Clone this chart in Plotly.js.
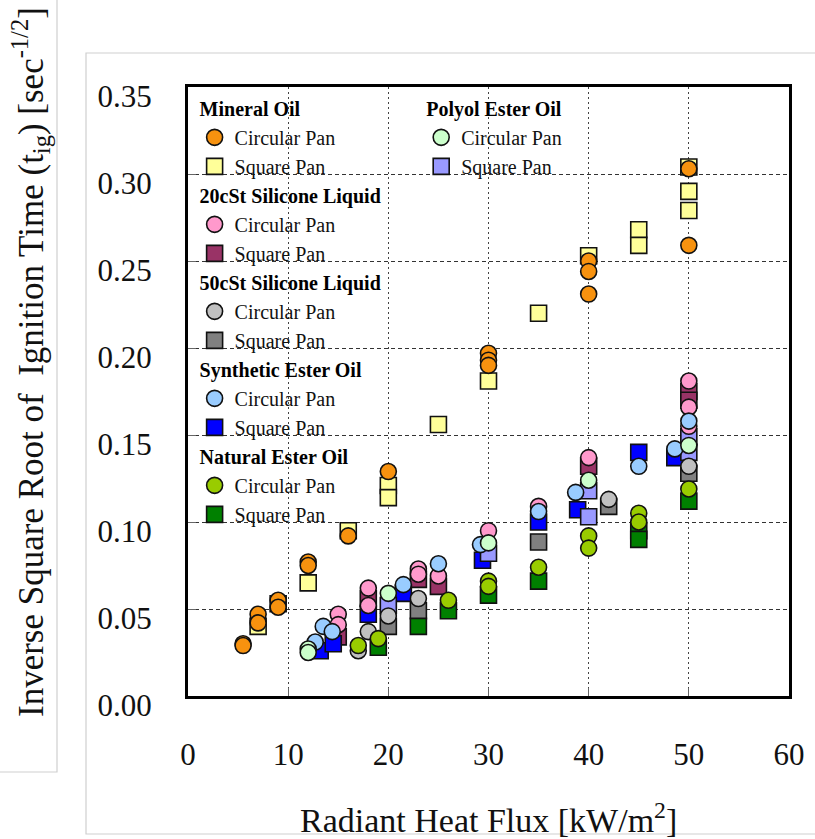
<!DOCTYPE html>
<html>
<head>
<meta charset="utf-8">
<script src="https://cdn.plot.ly/plotly-3.0.1.min.js"></script>
<style>html,body{margin:0;padding:0;background:#fff;}#chart{width:815px;height:839px;}</style>
</head>
<body>
<div id="chart"></div>
<script>
// ---- data ----
const xTicks = [0, 10, 20, 30, 40, 50, 60];
const yTicks = [0.00, 0.05, 0.10, 0.15, 0.20, 0.25, 0.30, 0.35];

const mineralCircX = [5.5, 5.5, 7, 7, 9, 9, 12, 12, 16, 20, 30, 30, 30, 40, 40, 40, 50, 50];
const mineralCircY = [0.030, 0.029, 0.047, 0.042, 0.055, 0.051, 0.077, 0.075, 0.092, 0.129, 0.197, 0.193, 0.190, 0.250, 0.244, 0.231, 0.303, 0.259];
const mineralSqX = [7, 9, 12, 16, 20, 20, 25, 30, 35, 40, 45, 45, 50, 50, 50];
const mineralSqY = [0.040, 0.053, 0.065, 0.095, 0.121, 0.114, 0.156, 0.181, 0.220, 0.253, 0.268, 0.259, 0.304, 0.290, 0.279];

const sil20CircX = [15, 15, 18, 18, 23, 23, 25, 30, 35, 40, 50, 50, 50];
const sil20CircY = [0.047, 0.041, 0.062, 0.052, 0.073, 0.070, 0.069, 0.095, 0.109, 0.137, 0.181, 0.166, 0.155];
const sil20SqX = [15, 18, 23, 25, 40, 50, 50];
const sil20SqY = [0.034, 0.056, 0.067, 0.063, 0.132, 0.175, 0.170];

const sil50CircX = [17, 18, 20, 23, 42, 50];
const sil50CircY = [0.026, 0.037, 0.046, 0.056, 0.113, 0.132];
const sil50SqX = [20, 23, 35, 42, 50];
const sil50SqY = [0.040, 0.049, 0.0885, 0.109, 0.128];

const synCircX = [12.7, 13.5, 14.4, 21.5, 25, 29.2, 35, 38.7, 45, 48.6, 50];
const synCircY = [0.031, 0.040, 0.037, 0.064, 0.076, 0.087, 0.106, 0.117, 0.132, 0.142, 0.158];
const synSqX = [13.2, 14.5, 18, 21.5, 29.4, 35, 38.9, 45, 48.6];
const synSqY = [0.026, 0.030, 0.047, 0.059, 0.078, 0.100, 0.107, 0.140, 0.137];

const natCircX = [17, 19, 26, 30, 30, 35, 40, 40, 45, 45, 50];
const natCircY = [0.029, 0.033, 0.055, 0.066, 0.063, 0.074, 0.092, 0.085, 0.105, 0.100, 0.119];
const natSqX = [19, 23, 26, 30, 35, 45, 45, 50];
const natSqY = [0.028, 0.040, 0.049, 0.058, 0.066, 0.095, 0.090, 0.112];

const polCircX = [12, 12, 20, 30, 40, 50];
const polCircY = [0.027, 0.025, 0.059, 0.088, 0.124, 0.144];
const polSqX = [20, 30, 40, 40, 50, 50];
const polSqY = [0.052, 0.082, 0.118, 0.103, 0.149, 0.140];

// ---- styling ----
const SERIF = 'Liberation Serif, Times New Roman, serif';
function tr(name, group, groupTitle, legend, rank, x, y, symbol, color, size) {
  return {
    type: 'scatter', mode: 'markers', x: x, y: y, name: name,
    legendgroup: group, legend: legend, legendrank: rank,
    legendgrouptitle: {text: '<b>' + groupTitle + '</b>', font: {family: SERIF, size: 20, color: '#000'}},
    marker: {symbol: symbol, color: color, size: size, line: {color: '#111', width: 1.6}},
    hoverinfo: 'x+y'
  };
}

const CS = 16, SS = 16;
const data = [
  // squares first (drawn underneath)
  tr('Square Pan', 'min', 'Mineral Oil', 'legend', 2, mineralSqX, mineralSqY, 'square', '#ffff99', SS),
  tr('Square Pan', 's20', '20cSt Silicone Liquid', 'legend', 4, sil20SqX, sil20SqY, 'square', '#993366', SS),
  tr('Square Pan', 's50', '50cSt Silicone Liquid', 'legend', 6, sil50SqX, sil50SqY, 'square', '#808080', SS),
  tr('Square Pan', 'syn', 'Synthetic Ester Oil', 'legend', 8, synSqX, synSqY, 'square', '#0000ff', SS),
  tr('Square Pan', 'nat', 'Natural Ester Oil', 'legend', 10, natSqX, natSqY, 'square', '#008000', SS),
  tr('Square Pan', 'pol', 'Polyol Ester Oil', 'legend2', 12, polSqX, polSqY, 'square', '#9999ff', SS),
  // circles on top
  tr('Circular Pan', 'min', 'Mineral Oil', 'legend', 1, mineralCircX, mineralCircY, 'circle', '#f7920f', CS),
  tr('Circular Pan', 's20', '20cSt Silicone Liquid', 'legend', 3, sil20CircX, sil20CircY, 'circle', '#ff99cc', CS),
  tr('Circular Pan', 's50', '50cSt Silicone Liquid', 'legend', 5, sil50CircX, sil50CircY, 'circle', '#c0c0c0', CS),
  tr('Circular Pan', 'syn', 'Synthetic Ester Oil', 'legend', 7, synCircX, synCircY, 'circle', '#99ccff', CS),
  tr('Circular Pan', 'nat', 'Natural Ester Oil', 'legend', 9, natCircX, natCircY, 'circle', '#99cc00', CS),
  tr('Circular Pan', 'pol', 'Polyol Ester Oil', 'legend2', 11, polCircX, polCircY, 'circle', '#ccffcc', CS)
];

const L = 188, R = 26, T = 87, B = 143;
const PW = 815 - L - R, PH = 839 - T - B;
const px = v => (v - L) / PW;
const py = v => (839 - B - v) / PH;

const layout = {
  width: 815, height: 839,
  margin: {l: L, r: R, t: T, b: B, pad: 0},
  paper_bgcolor: '#fff', plot_bgcolor: '#fff',
  font: {family: SERIF, color: '#111'},
  showlegend: true,
  xaxis: {
    range: [0, 60], tickvals: xTicks, ticktext: xTicks.map(String),
    showline: true, linecolor: '#000', linewidth: 3, mirror: true,
    ticks: 'inside', ticklen: 8, tickcolor: '#666', tickwidth: 1,
    showgrid: true, gridcolor: '#444', griddash: '2px,3px', gridwidth: 1,
    zeroline: false, tickfont: {family: SERIF, size: 31, color: '#111'},
    ticklabelstandoff: 29, fixedrange: true
  },
  yaxis: {
    range: [0, 0.35], tickvals: yTicks, ticktext: yTicks.map(v => v.toFixed(2)),
    showline: true, linecolor: '#000', linewidth: 3, mirror: true,
    ticks: 'inside', ticklen: 8, tickcolor: '#666', tickwidth: 1,
    showgrid: true, gridcolor: '#333', griddash: '4px,3px', gridwidth: 1,
    zeroline: false, tickfont: {family: SERIF, size: 31, color: '#111'},
    ticklabelstandoff: 27, ticklabelshift: 9, fixedrange: true
  },
  legend: {
    x: 0.011, y: 0.997, xanchor: 'left', yanchor: 'top',
    bgcolor: 'rgba(255,255,255,0)', borderwidth: 0, tracegroupgap: 0, traceorder: 'grouped',
    font: {family: SERIF, size: 20, color: '#111'}, itemsizing: 'trace'
  },
  legend2: {
    x: 0.388, y: 0.997, xanchor: 'left', yanchor: 'top',
    bgcolor: 'rgba(255,255,255,0)', borderwidth: 0, tracegroupgap: 0, traceorder: 'grouped',
    font: {family: SERIF, size: 20, color: '#111'}, itemsizing: 'trace'
  },
  annotations: [
    {xref: 'paper', yref: 'paper', x: 0.5, y: py(818), xanchor: 'center', yanchor: 'middle',
     text: 'Radiant Heat Flux [kW/m<sup>2</sup>]', showarrow: false,
     font: {family: SERIF, size: 34, color: '#111'}},
    {xref: 'paper', yref: 'paper', x: px(30), y: py(362), xanchor: 'center', yanchor: 'middle',
     textangle: -90, text: 'Inverse Square Root of  Ignition Time (t<sub>ig</sub>) [sec<sup>-1/2</sup>]',
     showarrow: false, font: {family: SERIF, size: 35, color: '#111'}}
  ],
  shapes: [
    // white panels that hide the grid behind the legend text (between grid and markers)
    {type: 'rect', xref: 'paper', yref: 'paper', x0: px(190), x1: px(410), y0: py(515), y1: py(89),
     line: {width: 0}, fillcolor: '#fff', layer: 'between'},
    {type: 'rect', xref: 'paper', yref: 'paper', x0: px(405), x1: px(600), y0: py(178), y1: py(89),
     line: {width: 0}, fillcolor: '#fff', layer: 'between'},
    // light frames of the scanned figure
    {type: 'rect', xref: 'paper', yref: 'paper', x0: px(86), x1: px(818), y0: py(834), y1: py(53),
     line: {color: '#cfcfcf', width: 1.2}, fillcolor: 'rgba(0,0,0,0)', layer: 'below'},
    {type: 'rect', xref: 'paper', yref: 'paper', x0: px(-3), x1: px(57), y0: py(772), y1: py(-3),
     line: {color: '#cfcfcf', width: 1.2}, fillcolor: 'rgba(0,0,0,0)', layer: 'below'}
  ]
};

Plotly.newPlot('chart', data, layout, {displayModeBar: false, staticPlot: true});
</script>
</body>
</html>
